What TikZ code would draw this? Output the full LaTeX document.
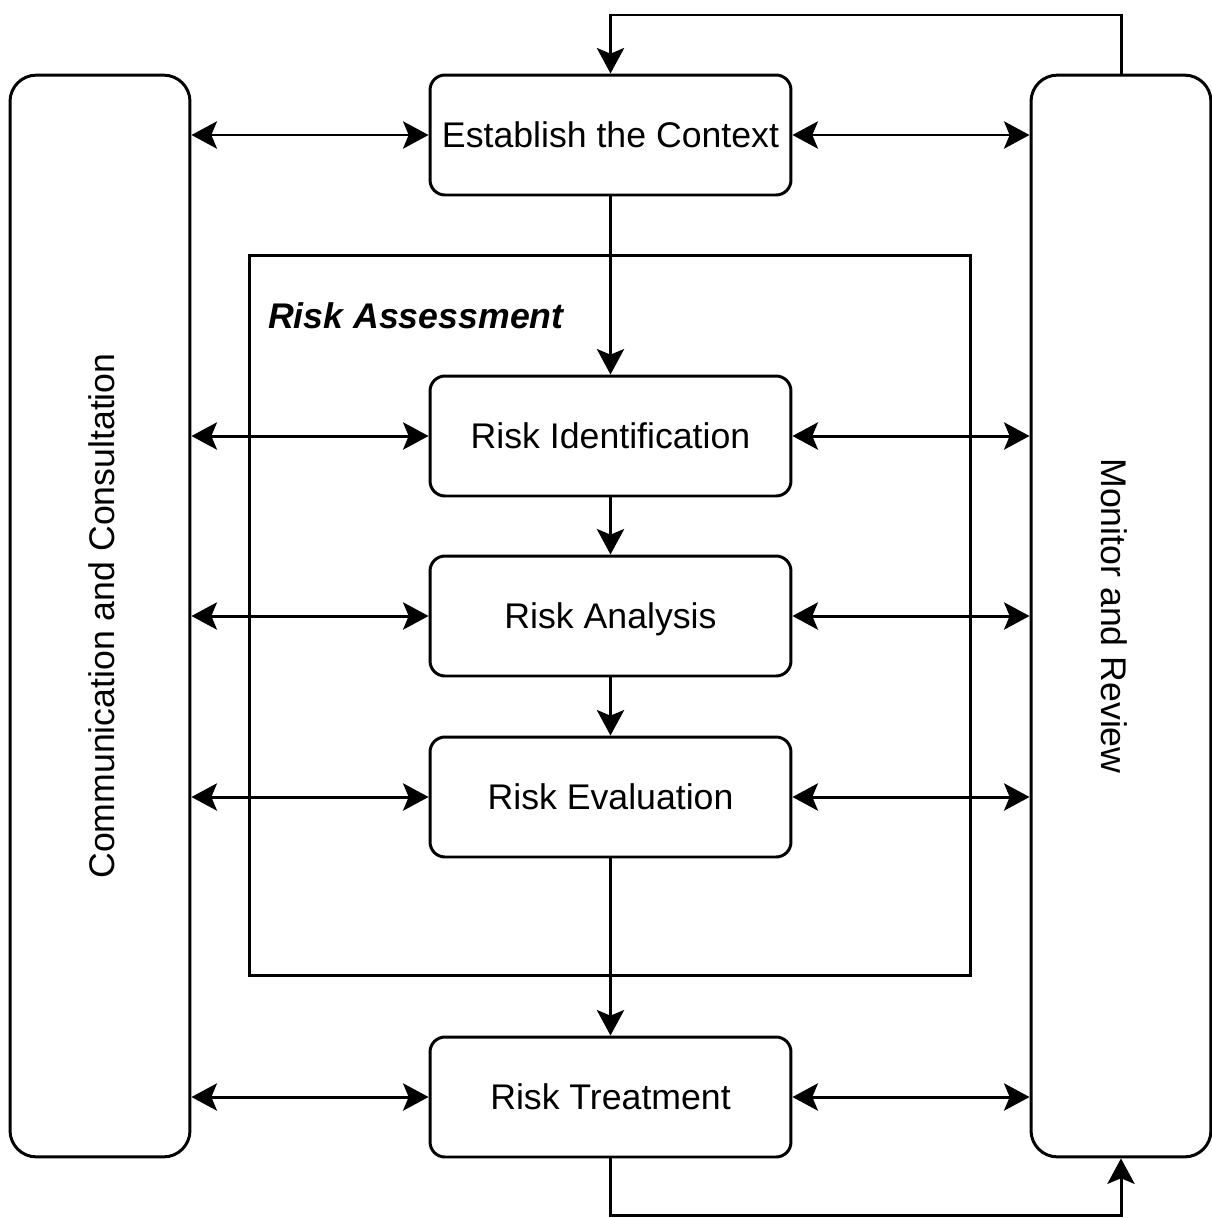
\documentclass[tikz,border=0pt]{standalone}
\usepackage{fontspec}
\setmainfont{Liberation Sans}
\usetikzlibrary{arrows.meta}
\begin{document}
\begin{tikzpicture}[x=0.02cm,y=-0.02cm,
  >={Stealth[length=14.5pt,width=15.5pt,inset=3.2pt]},
  every node/.style={font=\fontsize{20.3}{24}\selectfont},
  link/.style={line width=1.7pt},
  stage/.style={draw,line width=1.7pt,rounded corners=8.5pt,
    minimum width=7.22cm,minimum height=2.4cm,inner sep=0pt,text depth=0pt},
  side/.style={draw,line width=1.7pt,rounded corners=15pt,
    minimum width=3.6cm,minimum height=21.64cm,inner sep=0pt},
  frame/.style={draw,line width=1.7pt,minimum width=14.44cm,
    minimum height=14.42cm,inner sep=0pt},
]
\useasboundingbox (0,0) rectangle (1212,1218);

% side columns
\node[side] (cc) at (100,616) {};
\node[rotate=90] (cctext) at (102,616) {Communication and Consultation};
\node[side] (mr) at (1121,616) {};
\node[rotate=-90] (mrtext) at (1114,616) {Monitor and Review};

% risk assessment frame
\node[frame] (raframe) at (610,615.5) {};
\node[anchor=west,font=\fontsize{20.3}{24}\selectfont\bfseries\itshape] (ralabel) at (262,316) {Risk Assessment};

% process stages
\node[stage] (ec) at (610.5,135) {Establish the Context};
\node[stage] (ri) at (610.5,436) {Risk Identification};
\node[stage] (ra) at (610.5,616) {Risk Analysis};
\node[stage] (re) at (610.5,797) {Risk Evaluation};
\node[stage] (rt) at (610.5,1097) {Risk Treatment};

% main flow
\draw[link,->] (ec.south) -- (ri.north);
\draw[link,->] (ri.south) -- (ra.north);
\draw[link,->] (ra.south) -- (re.north);
\draw[link,->] (re.south) -- (rt.north);

% communication links
\foreach \s in {ec,ri,ra,re,rt}{
  \draw[link,<->] (cc.east |- \s) -- (\s.west);
  \draw[link,<->] (\s.east) -- (mr.west |- \s);
}

% feedback loops
\coordinate (toprail) at (0,15);
\coordinate (botrail) at (0,1215);
\draw[link,->] (mr.north) -- (mr.north |- toprail) -| (ec.north);
\draw[link,->] (rt.south) -- (rt.south |- botrail) -| (mr.south);
\end{tikzpicture}
\end{document}
